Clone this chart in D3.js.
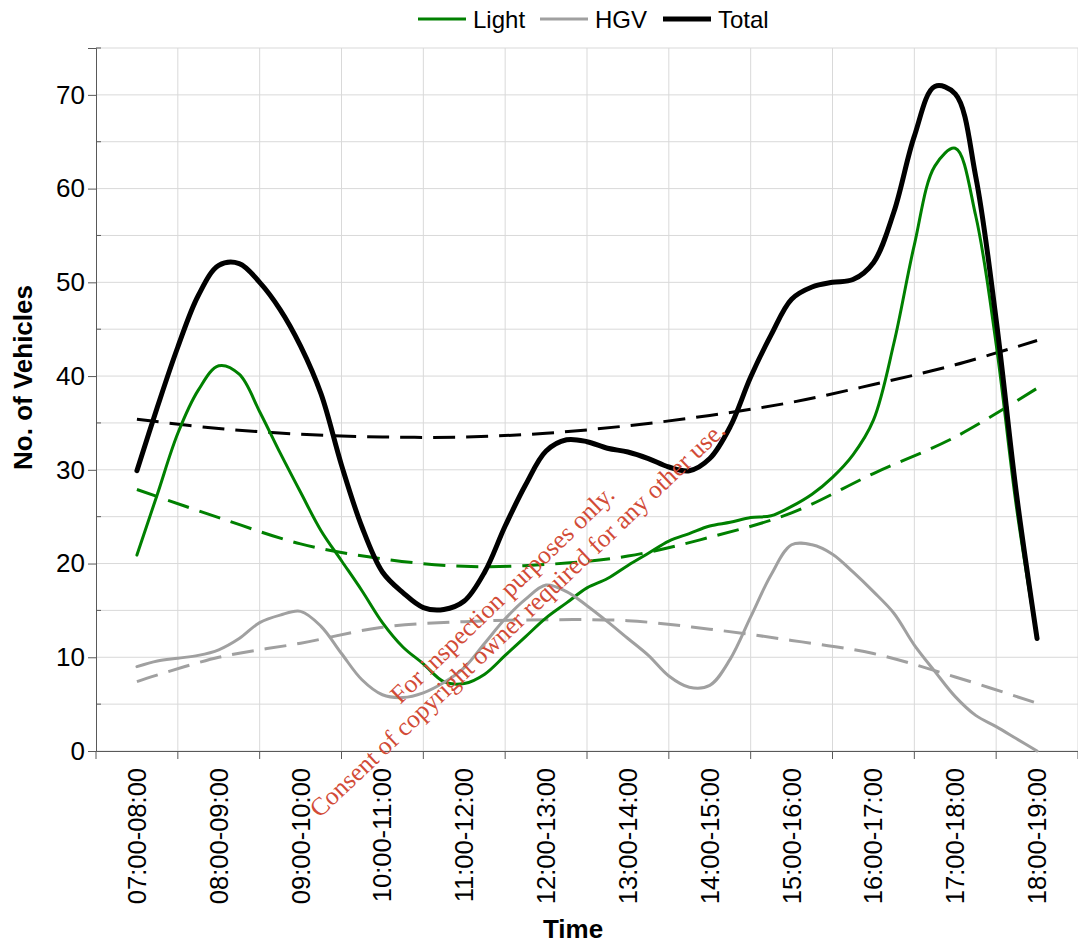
<!DOCTYPE html>
<html>
<head>
<meta charset="utf-8">
<script src="https://cdn.jsdelivr.net/npm/d3@7"></script>
<style>
  body { margin: 0; background: #fff; }
  text { font-family: "Liberation Sans", Arial, sans-serif; }
</style>
</head>
<body>
<div id="chart"></div>
<script>
// hourly periods shown on the axis
const periods = ["07:00-08:00","08:00-09:00","09:00-10:00","10:00-11:00","11:00-12:00","12:00-13:00",
                 "13:00-14:00","14:00-15:00","15:00-16:00","16:00-17:00","17:00-18:00","18:00-19:00"];

// rolling hourly counts, one value every 15 minutes (07:00-08:00 ... 18:00-19:00)
const light = [20.9,27.4,33.9,38.5,41.1,40.2,36.2,31.8,27.6,23.5,20.3,17.1,13.7,11.1,9.3,7.4,7.2,8.2,10.2,12.2,
               14.2,15.8,17.4,18.4,19.8,21.1,22.4,23.2,24.0,24.4,24.9,25.1,26.1,27.4,29.2,31.6,35.3,43.5,54.0,62.4,
               64.3,57.1,43.4,25.9,12.0];
const hgv   = [9.0,9.6,9.9,10.2,10.8,12.0,13.7,14.5,14.9,13.3,10.4,7.6,6.0,5.7,6.2,7.3,8.9,11.5,14.1,16.2,
               17.7,17.0,15.5,13.8,12.0,10.2,8.0,6.8,7.0,9.8,14.3,18.8,22.0,22.0,21.0,19.1,17.0,14.7,11.3,8.5,
               5.8,3.8,2.6,1.3,0.0];
const total = [29.9,36.7,43.1,48.6,51.8,52.0,50.0,47.1,43.2,38.1,30.5,23.9,19.1,16.9,15.3,15.1,16.0,19.1,24.0,28.4,
               32.0,33.2,33.0,32.3,31.9,31.2,30.3,29.9,31.2,34.6,39.9,44.4,48.2,49.5,50.0,50.3,52.1,57.5,65.6,70.9,
               70.1,61.3,46.0,27.3,12.0];

// trend lines (dashed), read at each hour
const lightTrend = [27.9,24.9,22.1,20.5,19.7,19.9,20.8,22.8,25.4,29.6,33.5,38.7];
const hgvTrend   = [7.4,10.0,11.5,13.2,13.8,14.0,13.9,13.0,11.8,10.4,7.9,5.1];
const totalTrend = [35.4,34.4,33.8,33.5,33.5,33.9,34.7,35.8,37.2,39.1,41.2,43.8];

const yTicks = [0,10,20,30,40,50,60,70];

const width = 1078, height = 943;
const margin = {top: 48, right: 0, bottom: 192, left: 96};

const svg = d3.select("#chart").append("svg")
    .attr("width", width)
    .attr("height", height);

const x = d3.scaleBand()
    .domain(periods)
    .range([margin.left, width - margin.right]);
const bw = x.bandwidth();
const y = d3.scaleLinear()
    .domain([0, 75])
    .range([height - margin.bottom, margin.top]);

// 15 minute steps sit between the hourly band centres
const qx = i => x(periods[0]) + bw / 2 + i * bw / 4;
const hx = i => x(periods[i]) + bw / 2;

// gridlines
const grid = svg.append("g");
grid.selectAll("line.h").data(d3.range(0, 80, 5))
    .enter().append("line")
    .attr("x1", margin.left).attr("x2", width - margin.right)
    .attr("y1", d => y(d)).attr("y2", d => y(d))
    .attr("stroke", "#d9d9d9").attr("stroke-width", 1);
grid.selectAll("line.v").data(periods.map((p, i) => i + 1))
    .enter().append("line")
    .attr("x1", d => margin.left + d * bw).attr("x2", d => margin.left + d * bw)
    .attr("y1", margin.top).attr("y2", y(0))
    .attr("stroke", "#d9d9d9").attr("stroke-width", 1);

// y axis
const yAxis = svg.append("g")
    .attr("transform", `translate(${margin.left},0)`)
    .call(d3.axisLeft(y).tickValues(yTicks).tickSize(8).tickPadding(3));
yAxis.select(".domain").attr("stroke", "#595959");
yAxis.selectAll(".tick line").attr("stroke", "#595959");
yAxis.selectAll("text").attr("font-size", 26).attr("fill", "#000");
svg.append("g").selectAll("line").data(d3.range(5, 80, 10))
    .enter().append("line")
    .attr("x1", margin.left).attr("x2", margin.left + 5)
    .attr("y1", d => y(d)).attr("y2", d => y(d))
    .attr("stroke", "#595959");

// x axis
const xAxis = svg.append("g")
    .attr("transform", `translate(0,${y(0)})`)
    .call(d3.axisBottom(x).tickSize(0).tickPadding(0));
xAxis.select(".domain").attr("stroke", "#595959");
xAxis.selectAll(".tick text")
    .attr("font-size", 25.5).attr("fill", "#000")
    .attr("transform", "rotate(-90)")
    .attr("text-anchor", "end")
    .attr("x", -17).attr("y", 0).attr("dy", "0.35em");
svg.append("g").selectAll("line").data(d3.range(0, 13))
    .enter().append("line")
    .attr("x1", d => margin.left + d * bw).attr("x2", d => margin.left + d * bw)
    .attr("y1", y(0)).attr("y2", y(0) + 8)
    .attr("stroke", "#595959");

// titles
svg.append("text")
    .attr("transform", `translate(32,${(margin.top + y(0)) / 2 - 22}) rotate(-90)`)
    .attr("text-anchor", "middle")
    .attr("font-size", 26).attr("font-weight", "bold")
    .text("No. of Vehicles");
svg.append("text")
    .attr("x", 573).attr("y", 938)
    .attr("text-anchor", "middle")
    .attr("font-size", 26).attr("font-weight", "bold")
    .text("Time");

// lines
const smooth = d3.line().curve(d3.curveCatmullRom.alpha(0.5));
const series = [
  {name: "Light", values: light, trend: lightTrend, color: "#008000", w: 3},
  {name: "HGV", values: hgv, trend: hgvTrend, color: "#a0a0a0", w: 3},
  {name: "Total", values: total, trend: totalTrend, color: "#000000", w: 5}
];

series.forEach(s => {
  svg.append("path")
      .attr("d", smooth(s.trend.map((v, i) => [hx(i), y(v)])))
      .attr("fill", "none")
      .attr("stroke", s.color)
      .attr("stroke-width", 3)
      .attr("stroke-dasharray", "22,11");
});
series.forEach(s => {
  svg.append("path")
      .attr("d", smooth(s.values.map((v, i) => [qx(i), y(v)])))
      .attr("fill", "none")
      .attr("stroke", s.color)
      .attr("stroke-width", s.w)
      .attr("stroke-linejoin", "round")
      .attr("stroke-linecap", "round");
});

// legend
const legendX = [418, 540, 663];
const legend = svg.append("g").selectAll("g").data(series)
    .enter().append("g")
    .attr("transform", (d, i) => `translate(${legendX[i]},19)`);
legend.append("line")
    .attr("x1", 0).attr("x2", 48)
    .attr("stroke", d => d.color)
    .attr("stroke-width", d => d.w);
legend.append("text")
    .attr("x", 55).attr("y", 9)
    .attr("font-size", 24)
    .text(d => d.name);

// watermark
const mark = svg.append("g")
    .attr("fill", "#d24b37")
    .attr("font-size", 25.5);
mark.append("text")
    .attr("transform", "translate(502,594) rotate(-44)")
    .attr("text-anchor", "middle")
    .attr("dy", "0.35em")
    .style("font-family", "'Liberation Serif', 'Times New Roman', serif")
    .text("For inspection purposes only.");
mark.append("text")
    .attr("transform", "translate(517,619) rotate(-43.5)")
    .attr("text-anchor", "middle")
    .attr("dy", "0.35em")
    .style("font-family", "'Liberation Serif', 'Times New Roman', serif")
    .text("Consent of copyright owner required for any other use.");
</script>
</body>
</html>
